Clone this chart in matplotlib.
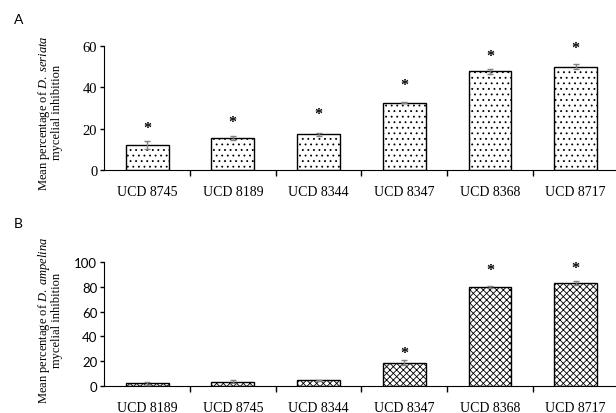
import matplotlib
matplotlib.use('Agg')
import matplotlib.pyplot as plt

plt.rcParams['mathtext.fontset'] = 'custom'
plt.rcParams['mathtext.rm'] = 'Liberation Serif'
plt.rcParams['mathtext.it'] = 'Liberation Serif:italic'
plt.rcParams['hatch.linewidth'] = 0.6

# panel A: D. seriata
labels_a = ["UCD 8745", "UCD 8189", "UCD 8344", "UCD 8347", "UCD 8368", "UCD 8717"]
mean_a = [12.2, 15.5, 17.3, 32.6, 47.8, 50.0]
err_a = [2.0, 0.8, 0.8, 0.4, 1.2, 1.2]
star_a = [20.3, 23.3, 27.0, 41.0, 55.0, 58.8]

# panel B: D. ampelina
labels_b = ["UCD 8189", "UCD 8745", "UCD 8344", "UCD 8347", "UCD 8368", "UCD 8717"]
mean_b = [1.9, 3.2, 4.3, 18.6, 79.8, 83.0]
err_b = [1.0, 1.2, 0.5, 2.0, 0.8, 1.5]
star_b = [None, None, None, 26.5, 94.0, 95.6]

fig = plt.figure(figsize=(6.16, 4.14), dpi=100)
ax_a = fig.add_axes([0.1692, 0.587, 0.835, 0.2995])
ax_b = fig.add_axes([0.1692, 0.066, 0.835, 0.298])


def draw(ax, labels, mean, err, stars, hatch, ymax, step, tick_font, tick_size, species, label_y):
    x = list(range(len(labels)))
    ax.bar(x, mean, width=0.5, color='white', edgecolor='black',
           linewidth=1.0, hatch=hatch, zorder=2)
    ax.errorbar(x, mean, yerr=err, fmt='none', ecolor='#808080',
                elinewidth=1.0, capsize=2.5, capthick=1.0, zorder=3)
    for xi, s in zip(x, stars):
        if s is not None:
            ax.text(xi, s, '*', ha='center', va='center', fontsize=11.5,
                    fontweight='bold', family='Liberation Serif')
    ax.set_xlim(-0.5, len(labels) - 0.5)
    ax.set_ylim(0, ymax)
    ax.set_yticks(range(0, ymax + 1, step))
    ax.set_xticks([i + 0.5 for i in range(len(labels) - 1)])
    ax.set_xticklabels([])
    ax.set_xticks(x, minor=True)
    ax.set_xticklabels(labels, minor=True, family='Liberation Serif', fontsize=10)
    ax.tick_params(axis='x', which='minor', length=0, pad=11)
    ax.tick_params(axis='x', which='major', length=4, width=1)
    ax.tick_params(axis='y', length=3, width=1, pad=2)
    for t in ax.get_yticklabels():
        t.set_family(tick_font)
        t.set_fontsize(tick_size)
    for sp in ['top', 'right']:
        ax.spines[sp].set_visible(False)
    ax.set_ylabel("Mean percentage of $\\mathit{D.\\ " + species + "}$\nmycelial inhibition",
                  family='Liberation Serif', fontsize=9, linespacing=0.95)
    ax.yaxis.set_label_coords(-0.08, label_y)


draw(ax_a, labels_a, mean_a, err_a, star_a, '...', 60, 20, 'Liberation Serif', 10.5, 'seriata', 0.47)
draw(ax_b, labels_b, mean_b, err_b, star_b, 'xxxxx', 100, 20, 'Lato', 9.5, 'ampelina', 0.535)

fig.text(0.022, 0.952, 'A', fontsize=10, family='Lato', va='center')
fig.text(0.022, 0.46, 'B', fontsize=10, family='Lato', va='center')

fig.savefig('out.png', dpi=100)
